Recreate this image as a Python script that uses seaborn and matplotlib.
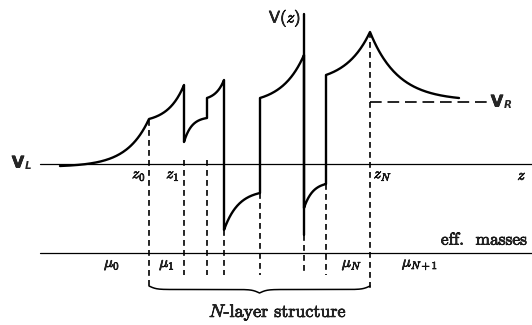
import numpy as np
import pandas as pd
import matplotlib
matplotlib.use("Agg")
import matplotlib.pyplot as plt
import matplotlib.patheffects as pe
import seaborn as sns

sns.set_theme(style="white")
plt.rcParams["font.family"] = ["cmr10", "DejaVu Serif"]
plt.rcParams["mathtext.fontset"] = "cm"
plt.rcParams["axes.unicode_minus"] = False

# Layer boundaries z_0 ... z_N (horizontal position)
boundaries = [149, 184, 207, 224, 260, 304, 326, 370]
# Potential at the left / right edge of each region (V_L = 0 reference)
outer_left = [60, -2, 45]           # x start, V start, V at z_0
layer_start = [45, 22, 66, -66, 66, -44, 89]
layer_end = [79, 46, 84, -29, 109, -20, 132]
# curvature sign per layer: +1 accelerating rise, -1 saturating rise
layer_shape = [1, -1, 1, -1, 1, -1, 1]
layer_k = [2.2, 3.0, 2.0, 2.5, 2.0, 2.5, 1.8]
outer_right = [459, 132, 66]        # x end, V at z_N, V at far right
V_R = 62
V_axis_x = 304

# dashed boundary markers: top and bottom in V units
dash_top = [44, 4, 4, -66, -29, -71, -20, 132]
dash_bottom = [-126, -111, -111, -111, -111, -111, -111, -126]


def rise(a, b, x0, x1, k, sign, n=80):
    t = np.linspace(0, 1, n)
    if sign > 0:
        s = (np.exp(k * t) - 1) / (np.exp(k) - 1)
    else:
        s = (1 - np.exp(-k * t)) / (1 - np.exp(-k))
    return x0 + (x1 - x0) * t, a + (b - a) * s


xs, vs = [], []
x, v = rise(outer_left[1], outer_left[2], outer_left[0], boundaries[0], 4.0, 1)
xs.append(x); vs.append(v)
for i in range(len(layer_start)):
    x, v = rise(layer_start[i], layer_end[i], boundaries[i], boundaries[i + 1],
                layer_k[i], layer_shape[i])
    xs.append(x); vs.append(v)
x, v = rise(outer_right[1], outer_right[2], boundaries[-1], outer_right[0], 3.2, -1)
xs.append(x); vs.append(v)

df = pd.DataFrame({"z": np.concatenate(xs), "V": np.concatenate(vs)})

fig = plt.figure(figsize=(5.32, 3.25), dpi=100)
ax = fig.add_axes([0, 0, 1, 1])
ax.set_xlim(0, 532)
ax.set_ylim(-161, 164)
ax.axis("off")

# potential profile
sns.lineplot(data=df, x="z", y="V", sort=False, estimator=None,
             color="black", linewidth=1.7, ax=ax)

# axes lines
ax.plot([40, 532], [0, 0], color="black", lw=0.9)
ax.plot([40, 532], [-89, -89], color="black", lw=0.9)
ax.plot([V_axis_x, V_axis_x], [150, -71], color="black", lw=1.7)

# dashed boundaries
for zb, t, b in zip(boundaries, dash_top, dash_bottom):
    ax.plot([zb, zb], [t, b], color="black", lw=1.2, linestyle=(0, (3.5, 2.5)))

# right asymptote
ax.plot([boundaries[-1], 490], [V_R, V_R], color="black", lw=1.2,
        linestyle=(0, (7, 3.5)))

# brace under the N-layer structure
x0, x1 = boundaries[0], boundaries[-1]
n = 200
beta = 60.0
xh = np.linspace(0, 0.5, n)
yh = 1 / (1 + np.exp(-beta * (xh - xh[0]))) + 1 / (1 + np.exp(-beta * (xh - xh[-1])))
yb = np.concatenate((yh, yh[-2::-1]))
xb = np.linspace(x0, x1, len(yb))
yb = -122 - 7 * (yb - yb.min()) / (yb.max() - yb.min())
ax.plot(xb, yb, color="black", lw=1.1)

heavy = [pe.withStroke(linewidth=0.5, foreground="black")]


def label(x, y, s, size, **kw):
    ax.text(x, y, s, ha=kw.pop("ha", "center"), va="center", fontsize=size,
            path_effects=heavy, **kw)


# potential labels: sans V with bold italic subscript
sans = dict(family="DejaVu Sans", fontweight="bold")
label(18, 1, "V", 11.5, **sans)
ax.text(25, -2, "L", fontsize=7.5, family="DejaVu Sans", fontweight="bold",
        style="italic", ha="left", va="center")
label(497, 62, "V", 11.5, **sans)
ax.text(504, 59, "R", fontsize=7.5, family="DejaVu Sans", fontweight="bold",
        style="italic", ha="left", va="center")
label(285, 146, r"$\mathsf{V}(z)$", 12)

fs = 11
label(139, -12, r"$z_0$", fs)
label(173, -12, r"$z_1$", fs)
label(383, -12, r"$z_N$", fs)
label(522, -12, r"$z$", fs)
label(112, -101, r"$\mu_0$", fs)
label(167, -101, r"$\mu_1$", fs)
label(352, -101, r"$\mu_N$", fs)
label(420, -101, r"$\mu_{N+1}$", fs)
label(527, -76, "eff.  masses", 12.5, ha="right")
label(278, -148, r"$N$-layer structure", 13)

fig.savefig("out.png", dpi=100)
